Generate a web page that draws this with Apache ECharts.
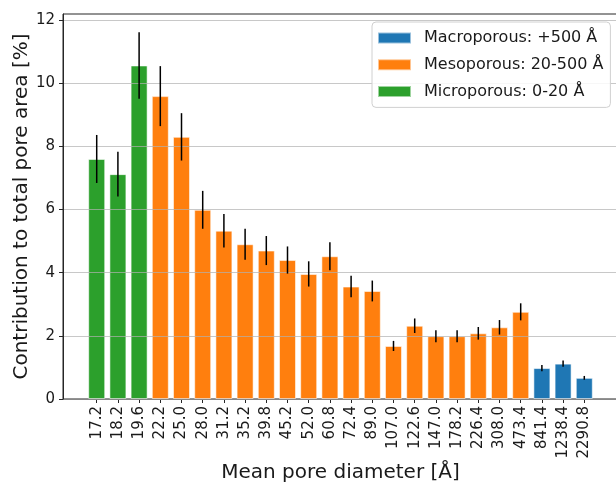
<!DOCTYPE html>
<html>
<head>
<meta charset="utf-8">
<script src="https://cdn.jsdelivr.net/npm/echarts@6/dist/echarts.min.js"></script>
<style>
html,body{margin:0;padding:0;background:#fff;}
#c{width:616px;height:485px;}
</style>
</head>
<body>
<div id="c"></div>
<script>
const categories = ['17.2','18.2','19.6','22.2','25.0','28.0','31.2','35.2','39.8','45.2','52.0','60.8','72.4','89.0','107.0','122.6','147.0','178.2','226.4','308.0','473.4','841.4','1238.4','2290.8'];
const values = [7.60,7.12,10.56,9.59,8.30,5.99,5.33,4.90,4.70,4.40,3.96,4.52,3.56,3.42,1.68,2.32,1.99,1.99,2.08,2.27,2.76,0.98,1.12,0.67];
const errors = [0.76,0.71,1.05,0.95,0.75,0.60,0.53,0.49,0.46,0.43,0.40,0.44,0.34,0.33,0.16,0.23,0.19,0.19,0.20,0.23,0.27,0.10,0.10,0.06];
const groups = ['micro','micro','micro','meso','meso','meso','meso','meso','meso','meso','meso','meso','meso','meso','meso','meso','meso','meso','meso','meso','meso','macro','macro','macro'];
const groupNames = {macro:'Macroporous: +500 Å', meso:'Mesoporous: 20-500 Å', micro:'Microporous: 0-20 Å'};
const groupColors = {macro:'#1f77b4', meso:'#ff7f0e', micro:'#2ca02c'};
const yTicks = [0,2,4,6,8,10,12];

const FONT = 'DejaVu Sans';
const chart = echarts.init(document.getElementById('c'), null, {renderer:'canvas'});
const idx = categories.map((_, i) => i);

function seriesFor(g) {
  return {
    name: groupNames[g],
    type: 'bar',
    barWidth: 17,
    barGap: '-100%',
    z: 2,
    itemStyle: {color: groupColors[g], borderColor: 'rgba(255,255,255,0.55)', borderWidth: 1},
    data: idx.filter(i => groups[i] === g).map(i => [i, values[i]])
  };
}

const option = {
  animation: false,
  backgroundColor: '#fff',
  textStyle: {fontFamily: FONT},
  grid: {left: 63, right: -2, top: 14, bottom: 86, show: true, borderColor: '#262626', borderWidth: 1,
    backgroundColor: 'transparent', containLabel: false, outerBoundsMode: 'none'},
  legend: {
    orient: 'vertical', left: 372, top: 22,
    itemWidth: 33, itemHeight: 11, itemGap: 10.7,
    icon: 'rect',
    padding: [8, 7, 8, 5],
    backgroundColor: 'rgba(255,255,255,0.85)',
    borderColor: '#d0d0d0', borderWidth: 1, borderRadius: 4,
    textStyle: {fontFamily: FONT, fontSize: 16, color: '#1a1a1a', lineHeight: 16, padding: [0,0,0,8]},
    data: [groupNames.macro, groupNames.meso, groupNames.micro]
  },
  xAxis: {
    type: 'value', min: -1.59, max: 24.59,
    name: 'Mean pore diameter [Å]', nameLocation: 'middle', nameGap: 64, nameMoveOverlap: false,
    nameTextStyle: {fontFamily: FONT, fontSize: 20, color: '#1a1a1a'},
    axisLine: {show: true, onZero: false, lineStyle: {color: '#262626', width: 1}},
    axisTick: {show: true, length: 4, lineStyle: {color: '#262626'}, customValues: idx},
    axisLabel: {show: true, rotate: 90, margin: 7, fontFamily: FONT, fontSize: 15, color: '#1a1a1a',
      customValues: idx, formatter: v => categories[Math.round(v)]},
    splitLine: {show: false}
  },
  yAxis: {
    type: 'value', min: 0, max: 12.19, interval: 2, z: 3,
    name: 'Contribution to total pore area [%]', nameLocation: 'middle', nameGap: 31, nameRotate: 90,
    nameMoveOverlap: false,
    nameTextStyle: {fontFamily: FONT, fontSize: 20, color: '#1a1a1a'},
    axisLine: {show: true, onZero: false, lineStyle: {color: '#262626', width: 1}},
    axisTick: {show: true, length: 4, lineStyle: {color: '#262626'}, customValues: yTicks},
    axisLabel: {margin: 8, fontFamily: FONT, fontSize: 15, color: '#1a1a1a', customValues: yTicks,
      formatter: v => (Math.abs(v % 2) < 1e-9 ? String(v) : '')},
    splitLine: {show: true, lineStyle: {color: 'rgba(176,176,176,0.7)', width: 1}}
  },
  series: [
    seriesFor('macro'),
    seriesFor('meso'),
    seriesFor('micro'),
    {
      type: 'custom', z: 5, silent: true,
      data: idx.map(i => [i, values[i], errors[i]]),
      renderItem: function (params, api) {
        const x = api.value(0), v = api.value(1), e = api.value(2);
        const p1 = api.coord([x, v - e]);
        const p2 = api.coord([x, v + e]);
        return {type: 'line', shape: {x1: p1[0], y1: p1[1], x2: p2[0], y2: p2[1]},
          style: {stroke: '#000', lineWidth: 1.5}};
      }
    }
  ]
};
chart.setOption(option);
</script>
</body>
</html>
